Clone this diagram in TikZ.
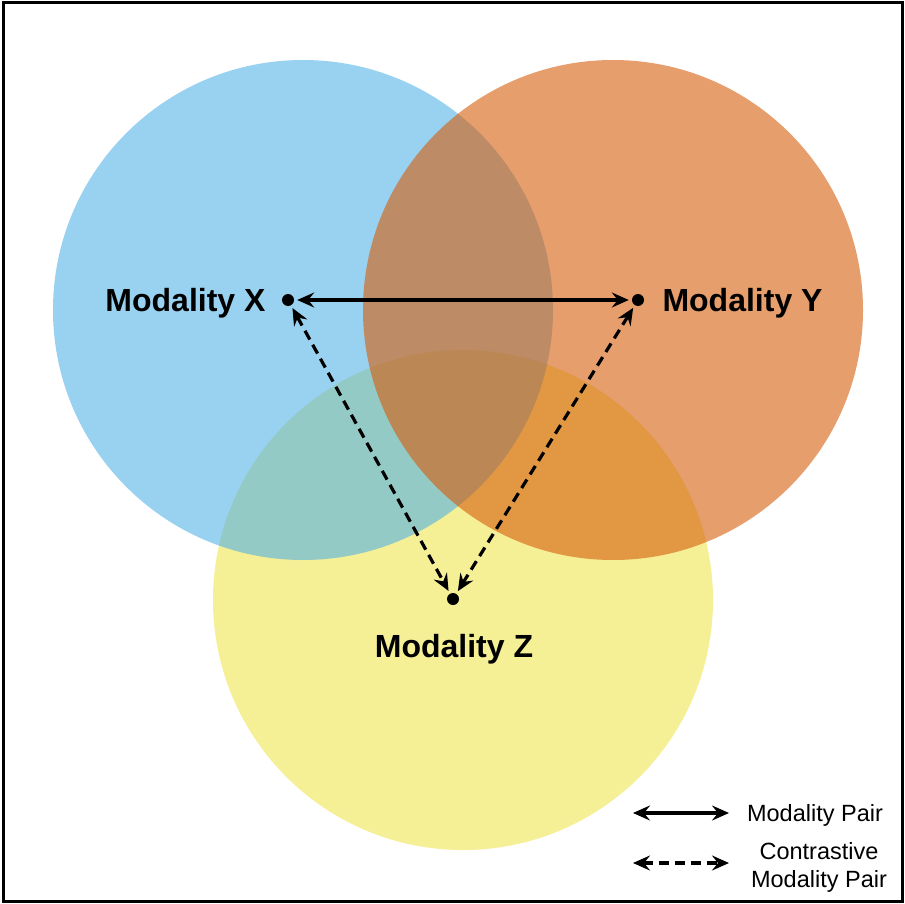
\documentclass[tikz,border=0pt]{standalone}
\usepackage{fontspec}
\setmainfont{Liberation Sans}
\usetikzlibrary{arrows.meta}
\definecolor{blueset}{RGB}{85,178,230}
\definecolor{orangeset}{RGB}{213,93,11}
\definecolor{yellowset}{RGB}{238,228,80}
\tikzset{
  dot/.style = {circle, fill, inner sep = 0, minimum size = 12pt},
  pairtip/.tip = {Stealth[length = 17pt, width = 15pt, inset = 6pt]},
  pair/.style = {line width = 3.2pt, pairtip-pairtip},
  contrastive/.style = {pair, dash pattern = on 10pt off 6pt},
  setname/.style = {font = \fontsize{32}{38}\selectfont\bfseries},
  legendtext/.style = {font = \fontsize{23.5}{28}\selectfont, align = center}
}
\begin{document}
\begin{tikzpicture}[x = 1pt, y = -1pt]
\useasboundingbox (0, 0) rectangle (905, 904);
\draw [line width = 3pt] (3, 2.5) rectangle (902.5, 901.5);

% the three sets
\fill [yellowset, fill opacity = .6] (463, 600) circle (250);
\fill [blueset, fill opacity = .6] (303, 310) circle (250);
\fill [orangeset, fill opacity = .6] (613, 310) circle (250);

\node [dot] (x) at (288, 300) {};
\node [dot] (y) at (638, 300) {};
\node [dot] (z) at (453, 599) {};
\node [setname, anchor = east] at (269, 303) {Modality X};
\node [setname, anchor = west] at (659, 303) {Modality Y};
\node [setname] at (454, 649) {Modality Z};

\draw [pair, shorten <= 3pt, shorten >= 3pt] (x) -- (y);
\draw [contrastive, shorten <= 3pt, shorten >= 3pt] (x) -- (z);
\draw [contrastive, shorten <= 3pt, shorten >= 3pt] (y) -- (z);

% legend
\coordinate (p1) at (633, 813);
\coordinate (p2) at (729, 813);
\coordinate (c1) at (633, 863);
\coordinate (c2) at (729, 863);
\draw [pair] (p1) -- (p2);
\draw [contrastive] (c1) -- (c2);
\node [legendtext] at (815, 815) {Modality Pair};
\node [legendtext] at (819, 867) {Contrastive\\Modality Pair};

\end{tikzpicture}
\end{document}
